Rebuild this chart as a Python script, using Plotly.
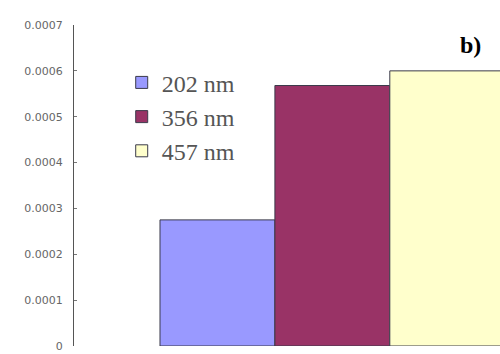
import plotly.graph_objects as go

# wavelengths and values
series = ["202 nm", "356 nm", "457 nm"]
values = [0.000275, 0.000568, 0.0006]
colors = ["#9999ff", "#993366", "#ffffcc"]
category = ["b"]

y_ticks = [0, 0.0001, 0.0002, 0.0003, 0.0004, 0.0005, 0.0006, 0.0007]
y_tick_text = ["0", "0.0001", "0.0002", "0.0003", "0.0004", "0.0005", "0.0006", "0.0007"]

fig = go.Figure()
for name, v, c in zip(series, values, colors):
    fig.add_trace(go.Bar(
        x=category, y=[v], name=name, legendgroup=name,
        marker=dict(color=c, line=dict(color="#3a3a4a", width=1)),
    ))

fig.update_layout(
    width=500, height=354,
    margin=dict(l=74, r=0, t=25, b=8),
    paper_bgcolor="white", plot_bgcolor="white",
    barmode="group", bargap=0.1, bargroupgap=0,
    showlegend=True,
    legend=dict(
        x=0.112, y=0.89, xanchor="left", yanchor="top",
        font=dict(family="Liberation Serif", size=24, color="#555555"),
        bgcolor="rgba(0,0,0,0)", itemwidth=30, tracegroupgap=0,
    ),
    xaxis=dict(
        type="category", range=[-0.6745, 0.4377],
        showticklabels=False, showgrid=False, zeroline=False, showline=False,
    ),
    yaxis=dict(
        range=[0, 0.0007], tickvals=y_ticks, ticktext=y_tick_text,
        showgrid=False, zeroline=False,
        showline=True, linecolor="#555555", linewidth=1,
        ticks="inside", ticklen=3, tickcolor="#777777",
        tickfont=dict(family="DejaVu Sans", size=11, color="#666666"),
        ticklabelstandoff=8,
    ),
)

fig.add_annotation(
    x=0.96, y=0.985, xref="paper", yref="paper",
    text="<b>b)</b>", showarrow=False, xanchor="right", yanchor="top",
    font=dict(family="Liberation Serif", size=24, color="black"),
)

fig.write_html("out.html", config={"displayModeBar": False},
               post_script="document.body.style.margin='0';")
